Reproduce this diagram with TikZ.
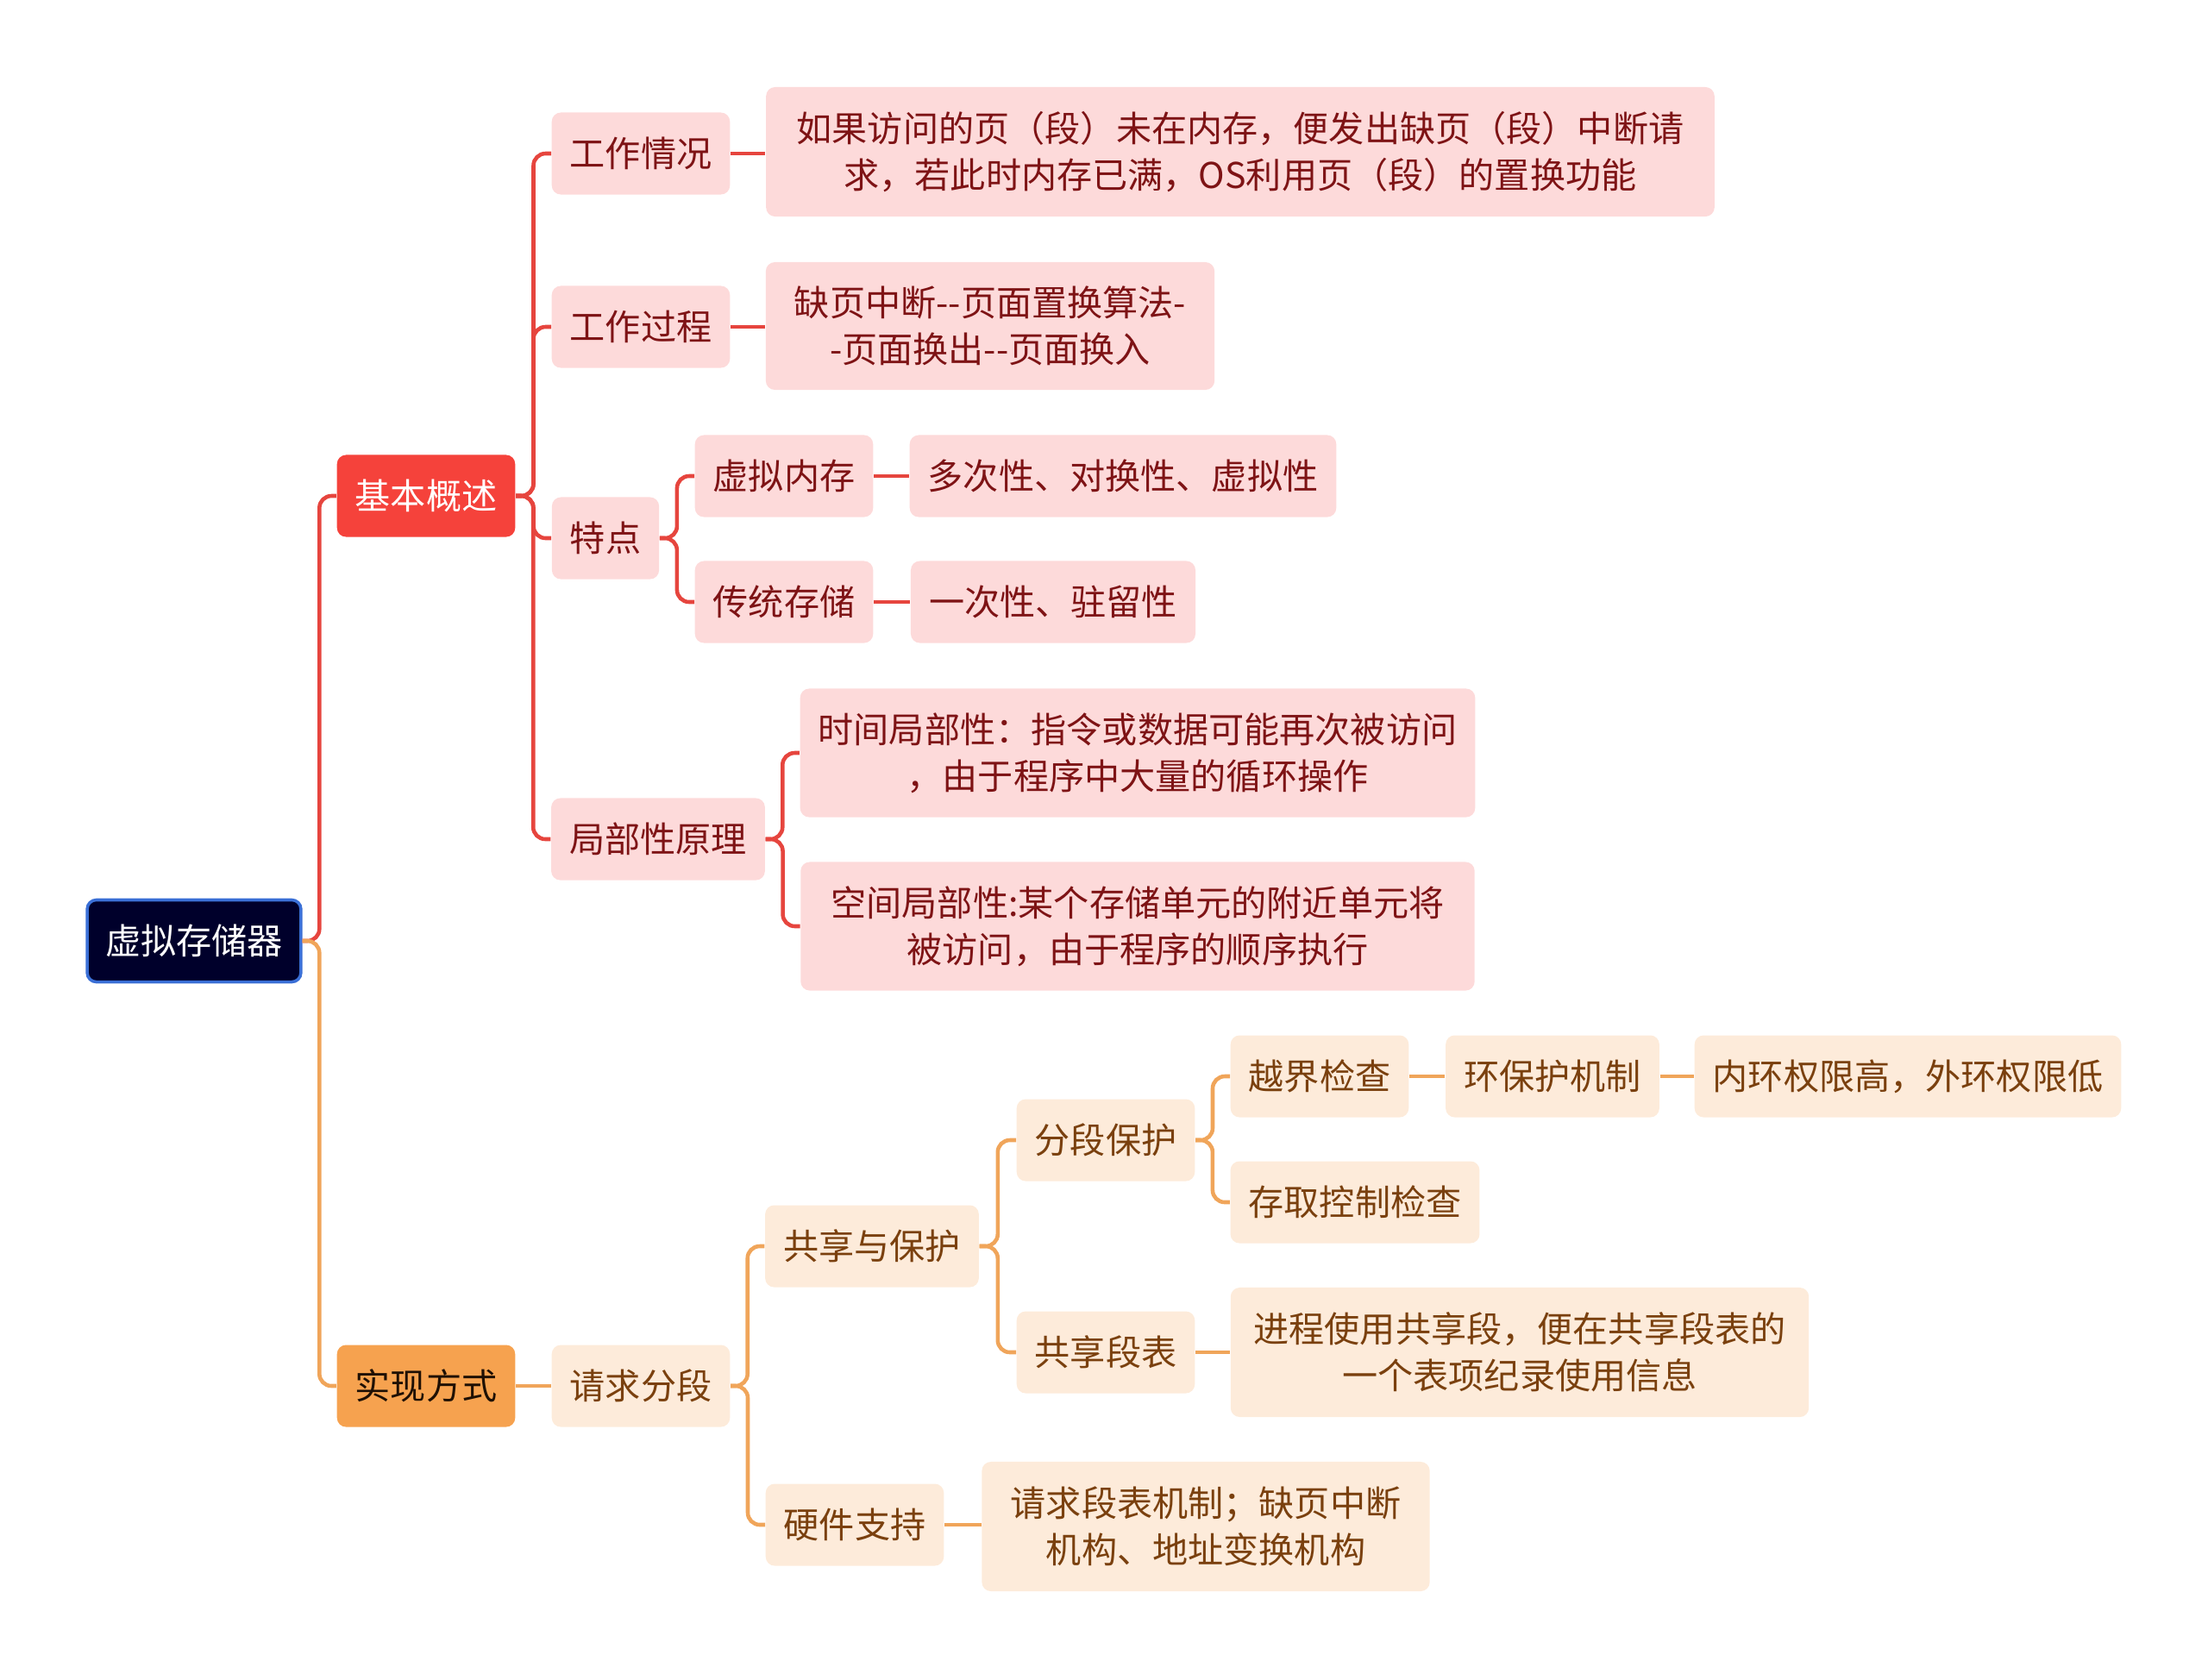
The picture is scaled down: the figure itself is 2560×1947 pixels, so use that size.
\documentclass[tikz,border=0pt]{standalone}
\usepackage{fontspec}
\setmainfont{Noto Sans CJK SC}
\usepackage{tikz}
\usetikzlibrary{calc}
\definecolor{navy}{HTML}{00002B}
\definecolor{navyrim}{HTML}{3A6FD6}
\definecolor{redhub}{HTML}{F5423B}
\definecolor{redline}{HTML}{E6453E}
\definecolor{redleaf}{HTML}{FDDADA}
\definecolor{redink}{HTML}{7E1315}
\definecolor{orahub}{HTML}{F6A24F}
\definecolor{oraline}{HTML}{F0A55A}
\definecolor{oraleaf}{HTML}{FDEBDA}
\definecolor{oraink}{HTML}{7A400E}

\begin{document}
\begin{tikzpicture}[x=0.01cm, y=-0.01cm,
  base/.style={rounded corners=3pt, inner xsep=0.21cm, minimum height=0.95cm, align=center, font=\fontsize{11.7}{15.4}\selectfont},
  topic/.style={base, fill=navy, draw=navyrim, line width=1pt, text=white},
  hubr/.style={base, fill=redhub, text=white},
  hubo/.style={base, fill=orahub, text=black!75!oraink},
  leafr/.style={base, fill=redleaf, text=redink},
  leafo/.style={base, fill=oraleaf, text=oraink},
  lr/.style={draw=redline, line width=1.3pt, rounded corners=0.14cm},
  lo/.style={draw=oraline, line width=1.3pt, rounded corners=0.14cm}]
\useasboundingbox (0,0) rectangle (2560,1947);
% root and the two main branches
\node[topic] (R) at (225,1091) {虚拟存储器};
\node[hubr] (B) at (494,575) {基本概述};
\node[hubo] (S) at (494,1607) {实现方式};
% basic concepts
\node[leafr] (B1) at (743,178) {工作情况};
\node[leafr] (B2) at (743,379) {工作过程};
\node[leafr] (B3) at (702,624) {特点};
\node[leafr] (B4) at (763,973) {局部性原理};
\node[leafr, minimum width=10.99cm, minimum height=1.5cm] (B1a) at (1438,176) {如果访问的页（段）未在内存，便发出缺页（段）中断请\\求，若此时内存已满，OS利用页（段）的置换功能};
\node[leafr, minimum width=5.2cm, minimum height=1.48cm] (B2a) at (1148,378) {缺页中断-\kern0pt-页面置换算法-\\-页面换出-\kern0pt-页面换入};
\node[leafr] (B3a) at (909,552) {虚拟内存};
\node[leafr] (B3b) at (909,698) {传统存储};
\node[leafr] (B3c) at (1302,552) {多次性、对换性、虚拟性};
\node[leafr] (B3d) at (1221,698) {一次性、驻留性};
\node[leafr, minimum width=7.81cm, minimum height=1.49cm] (B4a) at (1319,873) {时间局部性：指令或数据可能再次被访问\\，由于程序中大量的循环操作};
\node[leafr, minimum width=7.81cm, minimum height=1.49cm] (B4b) at (1319,1074) {空间局部性:某个存储单元的附近单元将\\被访问，由于程序的顺序执行};
% implementation
\node[leafo] (S1) at (743,1607) {请求分段};
\node[leafo] (S2) at (1011,1445) {共享与保护};
\node[leafo] (S3) at (991,1768) {硬件支持};
\node[leafo, minimum width=5.19cm, minimum height=1.5cm] (S3a) at (1398,1770) {请求段表机制；缺页中断\\机构、地址变换机构};
\node[leafo] (S4) at (1282,1322) {分段保护};
\node[leafo] (S5) at (1282,1568) {共享段表};
\node[leafo, minimum width=6.7cm, minimum height=1.5cm] (S5a) at (1762,1568) {进程使用共享段，便在共享段表的\\一个表项纪录使用信息};
\node[leafo] (S6) at (1530,1248) {越界检查};
\node[leafo] (S7) at (1571,1394) {存取控制检查};
\node[leafo] (S6a) at (1800,1248) {环保护机制};
\node[leafo] (S6b) at (2212,1248) {内环权限高，外环权限低};
% elbow connectors
\foreach \a/\b in {R/B, B/B1, B/B2, B/B3, B/B4, B3/B3a, B3/B3b, B4/B4a, B4/B4b}
  \draw[lr] let \p1=(\a.east), \p2=(\b.west) in (\p1) -- ({(\x1+\x2)/2},\y1) |- (\p2);
\foreach \a/\b in {R/S, S1/S2, S1/S3, S2/S4, S2/S5, S4/S6, S4/S7}
  \draw[lo] let \p1=(\a.east), \p2=(\b.west) in (\p1) -- ({(\x1+\x2)/2},\y1) |- (\p2);
% straight connectors
\foreach \a/\b in {B1/B1a, B2/B2a, B3a/B3c, B3b/B3d}
  \draw[lr] (\a.east) -- (\a.east -| \b.west);
\foreach \a/\b in {S/S1, S3/S3a, S5/S5a, S6/S6a, S6a/S6b}
  \draw[lo] (\a.east) -- (\a.east -| \b.west);
\end{tikzpicture}
\end{document}
